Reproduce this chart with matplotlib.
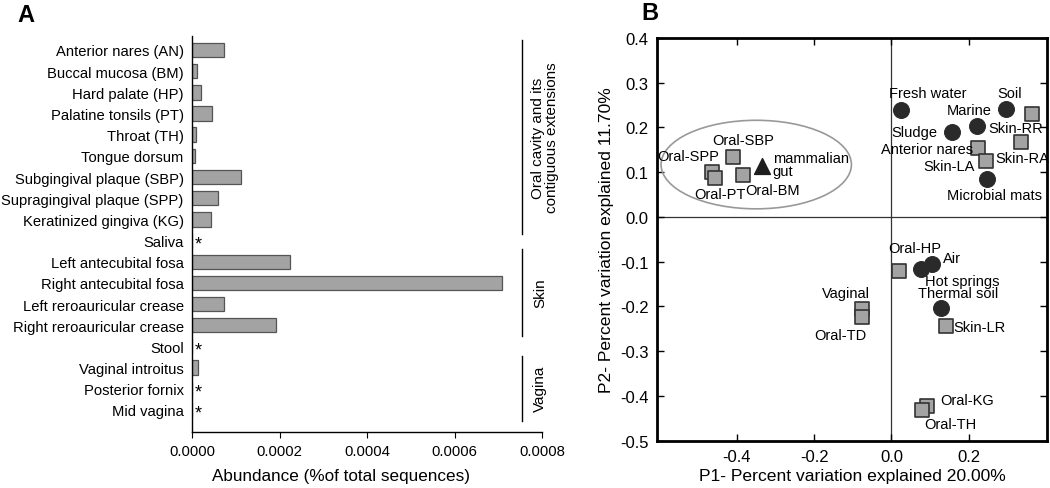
import matplotlib
matplotlib.use("Agg")
import matplotlib.pyplot as plt
from matplotlib.patches import Ellipse

plt.rcParams['font.family'] = ['Liberation Sans', 'DejaVu Sans']

# ---------------- Panel A data ----------------
sites = ["Anterior nares (AN)", "Buccal mucosa (BM)", "Hard palate (HP)",
         "Palatine tonsils (PT)", "Throat (TH)", "Tongue dorsum",
         "Subgingival plaque (SBP)", "Supragingival plaque (SPP)",
         "Keratinized gingiva (KG)", "Saliva", "Left antecubital fosa",
         "Right antecubital fosa", "Left reroauricular crease",
         "Right reroauricular crease", "Stool", "Vaginal introitus",
         "Posterior fornix", "Mid vagina"]
abundance = [0.000072, 0.0000106, 0.0000204, 0.0000466, 0.000009, 0.0000074,
             0.000113, 0.0000605, 0.0000425, 0.0, 0.000223, 0.000708,
             0.000072, 0.000192, 0.0, 0.0000139, 0.0, 0.0]
absent = ["Saliva", "Stool", "Posterior fornix", "Mid vagina"]
groups = ["Oral cavity and its\ncontiguous extensions", "Skin", "Vagina"]
xticks_a = [0.0, 0.0002, 0.0004, 0.0006, 0.0008]
xticklabels_a = ["0.0000", "0.0002", "0.0004", "0.0006", "0.0008"]

# ---------------- Panel B data ----------------
circ_names = ["Fresh water", "Soil", "Marine", "Sludge", "Microbial mats",
              "Hot springs", "Air", "Thermal soil"]
circ_x = [0.024, 0.297, 0.223, 0.156, 0.248, 0.076, 0.105, 0.128]
circ_y = [0.239, 0.242, 0.204, 0.189, 0.085, -0.117, -0.106, -0.204]

sq_names = ["Skin-RR", "Skin-RA", "Anterior nares", "Skin-LA", "Oral-SBP",
            "Oral-SPP", "Oral-PT", "Oral-BM", "Oral-HP", "Skin-LR",
            "Vaginal", "Oral-TD", "Oral-KG", "Oral-TH"]
sq_x = [0.364, 0.336, 0.225, 0.245, -0.411, -0.465, -0.458, -0.384, 0.020,
        0.141, -0.077, -0.075, 0.092, 0.080]
sq_y = [0.231, 0.167, 0.153, 0.126, 0.135, 0.101, 0.087, 0.094, -0.122,
        -0.244, -0.207, -0.224, -0.423, -0.432]

tri_name = "mammalian\ngut"
tri_x = [-0.335]
tri_y = [0.113]

# label positions (text anchors)
lab_text = ["Fresh water", "Soil", "Marine", "Skin-RR", "Sludge", "Anterior nares",
            "Skin-RA", "Skin-LA", "Microbial mats", "Oral-SBP", "Oral-SPP",
            "Oral-PT", "Oral-BM", "Oral-HP", "Air", "Hot springs",
            "Thermal soil", "Skin-LR", "Vaginal", "Oral-TD", "Oral-KG", "Oral-TH"]
lab_x = [0.094, 0.306, 0.202, 0.323, 0.059, 0.092, 0.338, 0.148, 0.267, -0.384,
         -0.526, -0.445, -0.309, 0.061, 0.158, 0.183, 0.174, 0.229, -0.117,
         -0.131, 0.195, 0.154]
lab_y = [0.277, 0.277, 0.240, 0.198, 0.189, 0.152, 0.131, 0.113, 0.050, 0.172,
         0.136, 0.052, 0.061, -0.070, -0.093, -0.143, -0.171, -0.246, -0.171,
         -0.263, -0.410, -0.463]

xticks_b = [-0.4, -0.2, 0.0, 0.2]
yticks_b = [0.4, 0.3, 0.2, 0.1, 0.0, -0.1, -0.2, -0.3, -0.4, -0.5]

W, H = 1050, 489
fig = plt.figure(figsize=(W / 100, H / 100), dpi=100)

# ---------------- Panel A ----------------
axA = fig.add_axes([192 / W, 1 - 433 / H, 350 / W, 396 / H])
rows = list(range(len(sites)))
axA.barh(rows, abundance, height=0.68, color="#a3a3a3", edgecolor="#555555",
         linewidth=0.9)
for i, s in enumerate(sites):
    if s in absent:
        axA.text(0.000006, i + 0.15, "*", ha="left", va="center", fontsize=13,
                 color="black")
axA.set_ylim(17 + 1.04, -0.66)
axA.set_xlim(0, 0.0008)
axA.set_yticks(rows)
axA.set_yticklabels(sites, fontsize=10.6)
axA.tick_params(axis="y", length=0, pad=6)
axA.set_xticks(xticks_a)
axA.set_xticklabels(xticklabels_a, fontsize=10.7)
axA.tick_params(axis="x", length=4, direction="out", pad=5)
for sp in ["top", "right"]:
    axA.spines[sp].set_visible(False)
for sp in ["left", "bottom"]:
    axA.spines[sp].set_linewidth(1.0)
axA.set_xlabel("Abundance (%of total sequences)", fontsize=12.3)
axA.xaxis.set_label_coords(0.426, -0.092)

# group brackets
bx = 0.000754
brackets = [(-0.47, 8.68), (9.39, 13.5), (14.43, 17.5)]
text_x = [0.000806, 0.000796, 0.000796]
for (y0, y1), g, tx in zip(brackets, groups, text_x):
    axA.plot([bx, bx], [y0, y1], color="black", linewidth=1.0, clip_on=False)
    axA.text(tx, (y0 + y1) / 2, g, rotation=90, ha="center", va="center",
             fontsize=11, linespacing=1.0, clip_on=False)

fig.text(17 / W, 1 - 16 / H, "A", fontsize=17, fontweight="bold",
         ha="left", va="center")

# ---------------- Panel B ----------------
axB = fig.add_axes([657 / W, 1 - 441.5 / H, 390 / W, 402.5 / H])
axB.set_xlim(-0.607, 0.403)
axB.set_ylim(-0.5, 0.4)
axB.axhline(0, color="#333333", linewidth=0.9, zorder=1)
axB.axvline(0, color="#333333", linewidth=0.9, zorder=1)

ell = Ellipse((-0.35, 0.117), 0.493, 0.198, fill=False, edgecolor="#999999",
              linewidth=1.2, zorder=2)
axB.add_patch(ell)

axB.scatter(sq_x, sq_y, marker="s", s=95, color="#a3a3a3",
            edgecolors="#333333", linewidths=1.2, zorder=3)
axB.scatter(circ_x, circ_y, marker="o", s=130, color="#2a2a2a",
            edgecolors="#2a2a2a", linewidths=0.8, zorder=4)
axB.scatter(tri_x, tri_y, marker="^", s=130, color="#1e1e1e", zorder=4)
axB.text(-0.307, 0.117, tri_name, ha="left", va="center", fontsize=10.5,
         linespacing=0.85)

for t, x, y in zip(lab_text, lab_x, lab_y):
    axB.text(x, y, t, ha="center", va="center", fontsize=10.5, zorder=5)

axB.set_xticks(xticks_b)
axB.set_xticklabels([f"{v:.1f}" for v in xticks_b], fontsize=12)
axB.set_yticks(yticks_b)
axB.set_yticklabels([f"{v:.1f}" for v in yticks_b], fontsize=12)
axB.tick_params(direction="in", length=5, width=1.0, top=True, right=True,
                labeltop=False, labelright=False, pad=6)
for sp in axB.spines.values():
    sp.set_linewidth(2.0)
axB.set_xlabel("P1- Percent variation explained 20.00%", fontsize=12.6, labelpad=3)
axB.set_ylabel("P2- Percent variation explained 11.70%", fontsize=12.6, labelpad=4)

fig.text(641 / W, 1 - 13 / H, "B", fontsize=17, fontweight="bold",
         ha="left", va="center")

fig.savefig("out.png", dpi=100)
